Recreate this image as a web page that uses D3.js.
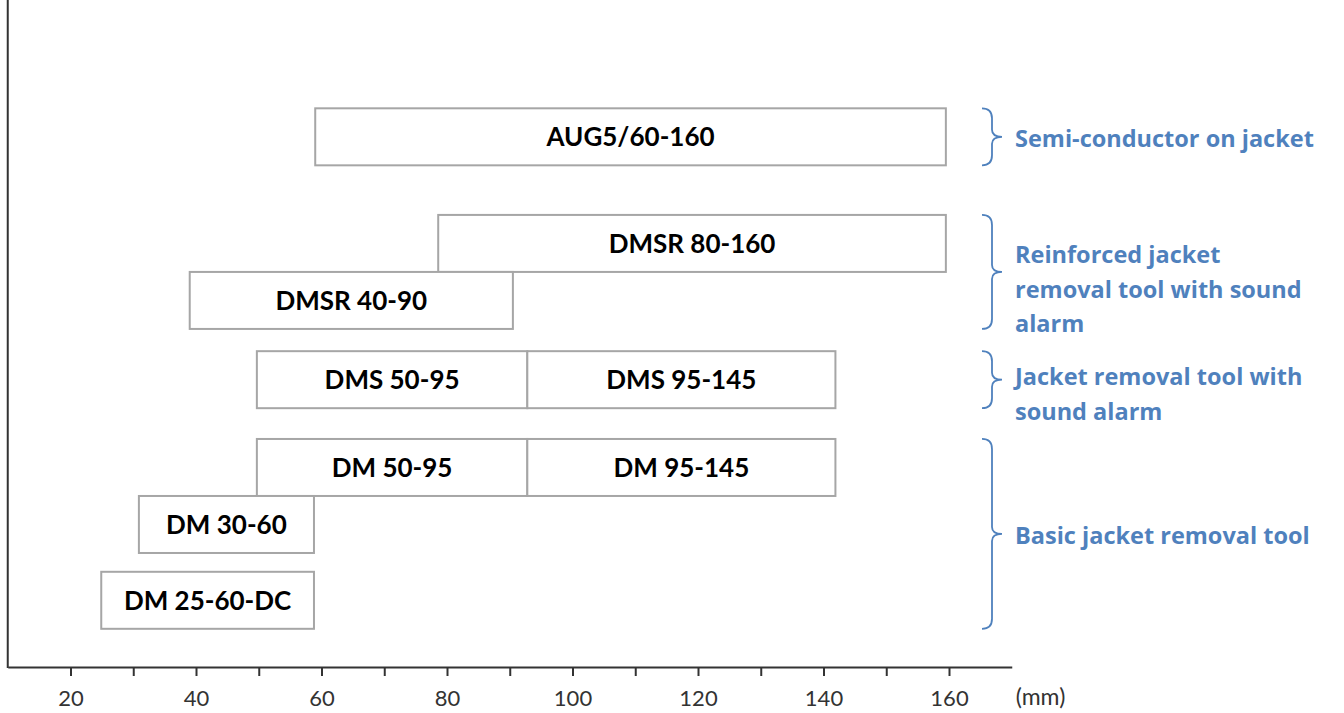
<!DOCTYPE html>
<html>
<head>
<meta charset="utf-8">
<script src="https://cdn.jsdelivr.net/npm/d3@7"></script>
<style>
  body { margin: 0; background: #fff; }
  svg { display: block; }
  .axis text { font-family: Lato, "Open Sans", sans-serif; font-size: 22px; fill: #333; }
  .axis path, .axis line { stroke: #333; stroke-width: 2; }
</style>
</head>
<body>
<svg id="chart"></svg>
<script>
// tools: name, start (mm), end (mm), row level
const toolNames = ["AUG5/60-160", "DMSR 80-160", "DMSR 40-90", "DMS 50-95", "DMS 95-145",
                   "DM 50-95", "DM 95-145", "DM 30-60", "DM 25-60-DC"];
const toolStart = [59, 78.6, 39, 49.7, 92.8, 49.7, 92.8, 30.9, 24.9];
const toolEnd   = [159.5, 159.5, 90.5, 92.8, 141.9, 92.8, 141.9, 58.8, 58.8];
const toolRow   = [9.3, 7.43, 6.43, 5.04, 5.04, 3.5, 3.5, 2.5, 1.17];

// groups on the right: label lines, row range covered by brace
const groupLabels = [
  ["Semi-conductor on jacket"],
  ["Reinforced jacket", "removal tool with sound", "alarm"],
  ["Jacket removal tool with", "sound alarm"],
  ["Basic jacket removal tool"]
];
const groupFrom = [9.3, 6.43, 5.04, 1.17];
const groupTo   = [9.3, 7.43, 5.04, 3.5];

const tickValues = [20, 30, 40, 50, 60, 70, 80, 90, 100, 110, 120, 130, 140, 150, 160];

const width = 1344, height = 713;
const svg = d3.select("#chart").attr("width", width).attr("height", height);

const x = d3.scaleLinear().domain([10, 170]).range([7.75, 1011.75]);
const y = d3.scaleLinear().domain([0, 11.7]).range([667, 0]);
const rowH = y(0) - y(1);

// bars
const bars = toolNames.map((name, i) => ({ name, start: toolStart[i], end: toolEnd[i], row: toolRow[i] }));

svg.selectAll(".bar")
  .data(bars)
  .join("rect")
  .attr("class", "bar")
  .attr("x", d => x(d.start))
  .attr("y", d => y(d.row + 0.5))
  .attr("width", d => x(d.end) - x(d.start))
  .attr("height", rowH)
  .attr("fill", "#fff")
  .attr("stroke", "#a6a6a6")
  .attr("stroke-width", 2);

svg.selectAll(".bar-label")
  .data(bars)
  .join("text")
  .attr("class", "bar-label")
  .attr("x", d => (x(d.start) + x(d.end)) / 2)
  .attr("y", d => y(d.row) + 9.5)
  .attr("text-anchor", "middle")
  .attr("font-family", "Lato, 'Open Sans', sans-serif")
  .attr("font-weight", "bold")
  .attr("font-size", 26)
  .attr("fill", "#000")
  .text(d => d.name);

// axes
const xAxis = d3.axisBottom(x)
  .tickValues(tickValues)
  .tickFormat(d => d % 20 === 0 ? d : "")
  .tickSize(9)
  .tickPadding(14)
  .tickSizeOuter(0);

svg.append("g")
  .attr("class", "axis x-axis")
  .attr("transform", `translate(0,${y(0)})`)
  .call(xAxis);

svg.append("line")
  .attr("x1", x(10)).attr("x2", x(10))
  .attr("y1", 0).attr("y2", y(0) + 1)
  .attr("stroke", "#333")
  .attr("stroke-width", 2);

svg.append("text")
  .attr("x", x(170) + 4)
  .attr("y", 705)
  .attr("font-family", "Lato, 'Open Sans', sans-serif")
  .attr("font-size", 23)
  .attr("fill", "#333")
  .text("(mm)");

// braces + group labels
const blue = "#4f81bd";
const groups = groupLabels.map((lines, i) => ({ lines, top: y(groupTo[i] + 0.5), bottom: y(groupFrom[i] - 0.5) }));

const bx0 = 982, bx1 = 992, bx2 = 1002, r = 10;
svg.selectAll(".brace")
  .data(groups)
  .join("path")
  .attr("class", "brace")
  .attr("d", d => {
    const mid = (d.top + d.bottom) / 2;
    return `M${bx0},${d.top} Q${bx1},${d.top} ${bx1},${d.top + r} L${bx1},${mid - r * 0.7}` +
      ` Q${bx1},${mid} ${bx2},${mid} Q${bx1},${mid} ${bx1},${mid + r * 0.7}` +
      ` L${bx1},${d.bottom - r} Q${bx1},${d.bottom} ${bx0},${d.bottom}`;
  })
  .attr("fill", "none")
  .attr("stroke", blue)
  .attr("stroke-width", 1.8);

// first baseline offset from brace middle, by number of lines
const lineH = 34.5;
const firstOffset = n => (n === 1 ? 10 : n === 2 ? 5.5 : -8.5);
svg.selectAll(".group-label")
  .data(groups)
  .join("text")
  .attr("class", "group-label")
  .attr("font-family", "'Open Sans', Lato, sans-serif")
  .attr("font-weight", "bold")
  .attr("font-size", 23.5)
  .attr("fill", blue)
  .each(function (d) {
    const mid = (d.top + d.bottom) / 2;
    const first = mid + firstOffset(d.lines.length);
    d3.select(this).selectAll("tspan")
      .data(d.lines)
      .join("tspan")
      .attr("x", 1015)
      .attr("y", (t, j) => first + j * lineH)
      .text(t => t);
  });
</script>
</body>
</html>
